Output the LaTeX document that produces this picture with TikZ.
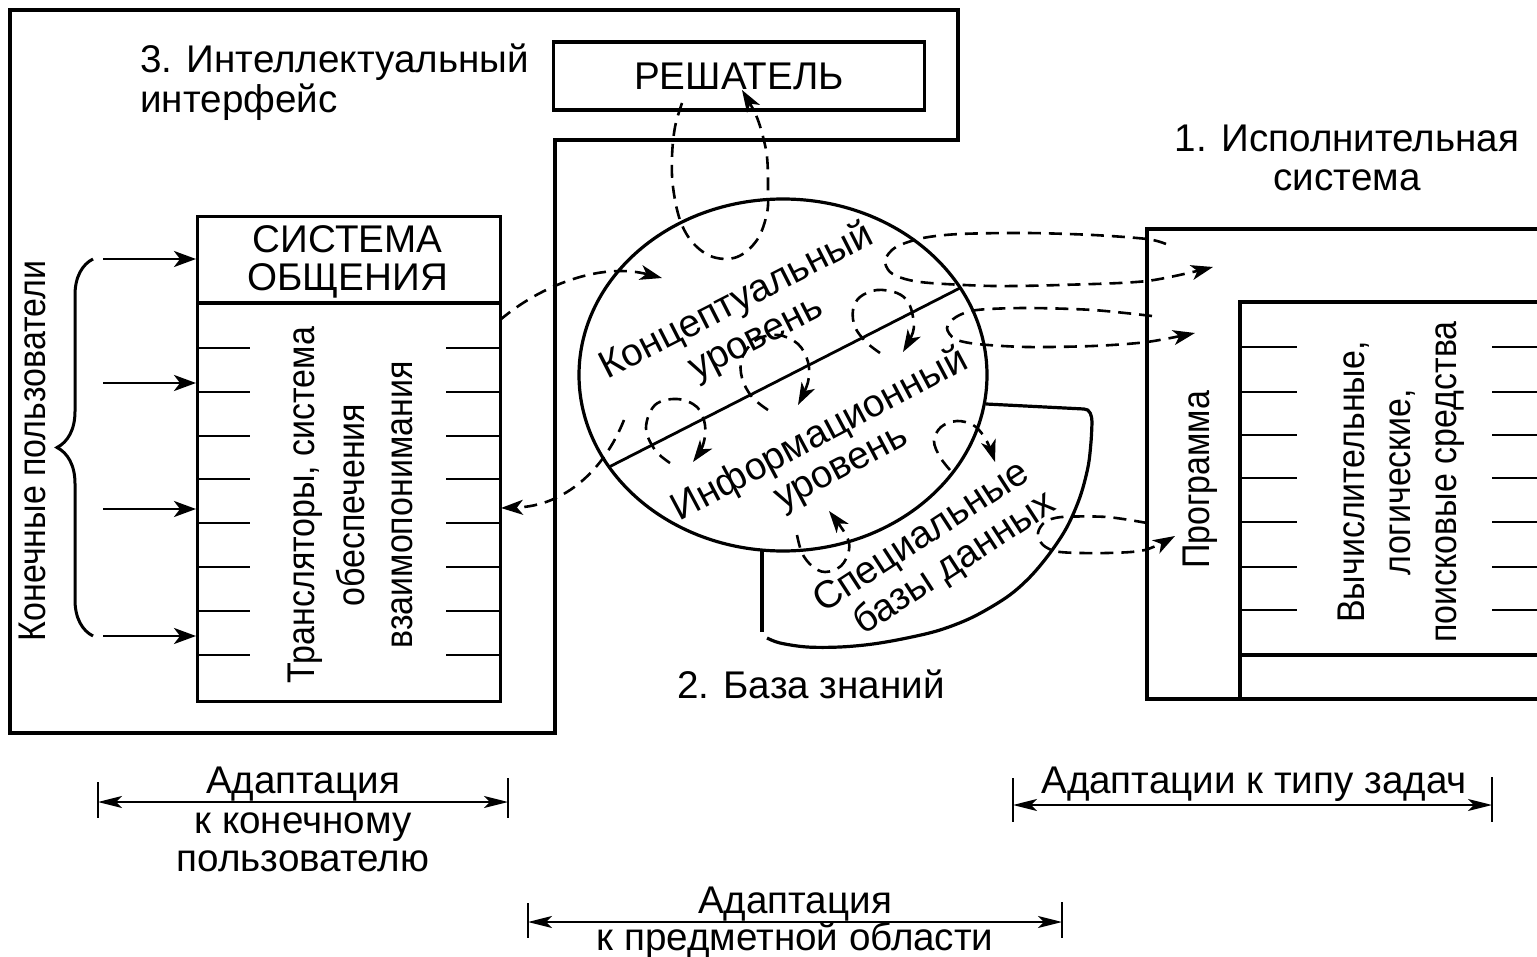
\documentclass[tikz,border=0pt]{standalone}
\usepackage{fontspec}
\setmainfont{Liberation Sans}
\newfontfamily\narrowfont[FakeStretch=0.88]{Liberation Sans}
\usetikzlibrary{arrows.meta,decorations.pathreplacing}
\begin{document}
\begin{tikzpicture}[x=0.5pt,y=-0.5pt,
  frame/.style={line width=1.6pt, line join=miter},
  tick/.style={line width=1.4pt},
  flowline/.style={line width=1.3pt, dash pattern=on 6.5pt off 4pt},
  flow/.style={flowline, -{Stealth[length=11pt,width=7.5pt,inset=3pt]}},
  userarrow/.style={line width=1.4pt, -{Stealth[length=11pt,width=8pt,inset=3pt]}},
  span/.style={line width=1.1pt, {Stealth[length=12pt,width=6pt,inset=3pt]}-{Stealth[length=12pt,width=6pt,inset=3pt]}},
  bar/.style={line width=1.1pt},
  lbl/.style={inner sep=0pt, font=\fontsize{19.3pt}{24pt}\selectfont},
  vlbl/.style={inner sep=0pt, rotate=90, anchor=base, font=\narrowfont\fontsize{19.3pt}{24pt}\selectfont},
]
\useasboundingbox (0,0) rectangle (1537,957);

% --- 3. intelligent interface: outer frame
\draw[frame] (10,10) -- (958,10) -- (958,140) -- (555,140) -- (555,733) -- (10,733) -- cycle;
\node[lbl, anchor=base west] (iface1) at (140,73) {3. Интеллектуальный};
\node[lbl, anchor=base west] (iface2) at (140,113) {интерфейс};

% solver
\node[draw, frame, lbl, minimum width=185.5pt, minimum height=34pt] (solver) at (739,76) {РЕШАТЕЛЬ};

% communication system
\node[draw, frame, minimum width=151.5pt, minimum height=242.5pt, anchor=north west] (comm) at (196,215) {};
\draw[frame] (196,303) -- (499,303);
\node[lbl, anchor=base] (comm1) at (347.5,253) {СИСТЕМА};
\node[lbl, anchor=base] (comm2) at (347.5,291) {ОБЩЕНИЯ};
\foreach \y in {348,392,436,479,523,567,611,655} {
  \draw[tick] (196,\y) -- (250,\y);
  \draw[tick] (446,\y) -- (499,\y);
}
\node[vlbl] (tr1) at (314,505) {Трансляторы, система};
\node[vlbl] (tr2) at (364,505) {обеспечения};
\node[vlbl] (tr3) at (412,505) {взаимопонимания};

% end users
\node[vlbl] (users) at (45,451) {Конечные пользователи};
\draw[line width=1.5pt, decorate, decoration={brace, amplitude=18pt}] (93,636) -- (93,259);
\foreach \y [count=\i] in {259,383,509,636} {
  \coordinate (u\i) at (103,\y);
  \draw[userarrow] (u\i) -- (comm.west |- u\i);
}

% --- 2. knowledge base
\draw[frame] (783,375) ellipse [x radius=102pt, y radius=88pt];
\draw[tick] (609,467) -- (960,288);
% special databases sector
\draw[frame] (762,551) -- (762,632);
\draw[frame, line join=round] (986,404) -- (1084,409) to[out=3,in=90] (1092,422)
  plot[smooth, tension=0.55] coordinates {(1092,422) (1091,442) (1088,467) (1080,497) (1067,527)
  (1050,553) (1030,577) (1007,597) (973,617) (940,630) (907,638) (873,644) (840,647) (807,647) (780,643) (767,638)};

\node[lbl, rotate=27] (conc1) at (737,302) {Концептуальный};
\node[lbl, rotate=27] (conc2) at (758,342) {уровень};
\node[lbl, rotate=28] (info1) at (820,435) {Информационный};
\node[lbl, rotate=28] (info2) at (843,471) {уровень};
\node[lbl, rotate=33] (sdb1) at (922,538) {Специальные};
\node[lbl, rotate=33] (sdb2) at (955,564) {базы данных};
\node[lbl, anchor=base] (kb) at (811,698) {2. База знаний};

% --- 1. executive system
\draw[frame] (1545,229) -- (1147,229) -- (1147,699) -- (1545,699);
\draw[frame] (1545,302) -- (1240,302) -- (1240,699);
\draw[frame] (1240,655) -- (1545,655);
\foreach \y in {347,392,435,478,522,567,610} {
  \draw[tick] (1240,\y) -- (1297,\y);
  \draw[tick] (1492,\y) -- (1545,\y);
}
\node[lbl, anchor=base] (exec1) at (1347,152) {1. Исполнительная};
\node[lbl, anchor=base] (exec2) at (1347,191) {система};
\node[vlbl] (prog) at (1209,480) {Программа};
\node[vlbl] (calc1) at (1364,482) {Вычислительные,};
\node[vlbl] (calc2) at (1410,482) {логические,};
\node[vlbl] (calc3) at (1456,482) {поисковые средства};

% --- information flows (dashed)
% solver <-> conceptual level
\draw[flow] plot[smooth, tension=0.6] coordinates {(682,103) (675,127) (672,157) (673,187) (680,220)
  (693,243) (713,257) (737,257) (757,240) (767,213) (768,187) (767,157) (762,133) (755,113) (742,90)};
% communication system -> conceptual level
\draw[flow] (500,320) .. controls (540,286) and (600,262) .. (662,278);
% knowledge base -> communication system
\draw[flow] (624,420) .. controls (604,470) and (565,506) .. (501,508);
% loops across the conceptual / information boundary
\draw[flow] plot[smooth, tension=0.6] coordinates {(670,463) (655,450) (646,428) (655,405) (677,399)
  (697,407) (705,425) (703,445) (693,462)};
\draw[flow] plot[smooth, tension=0.6] coordinates {(768,410) (752,397) (742,378) (742,358) (756,340)
  (778,335) (798,344) (808,362) (808,382) (798,405)};
\draw[flow] plot[smooth, tension=0.6] coordinates {(880,353) (866,342) (855,327) (853,310) (860,297)
  (877,290) (897,293) (908,302) (913,317) (913,332) (903,352)};
% information level <-> special databases
\draw[flow] plot[smooth, tension=0.6] coordinates {(950,470) (940,457) (934,441) (941,427) (957,421)
  (973,425) (983,435) (990,448) (995,462)};
\draw[flow] plot[smooth, tension=0.6] coordinates {(797,535) (802,553) (812,566) (825,572) (841,566)
  (849,550) (846,535) (829,511)};
% knowledge base <-> program
\draw[flow] plot[smooth, tension=0.5] coordinates {(1166,244) (1147,239) (1093,235) (1027,233) (960,234)
  (923,238) (896,247) (885,260) (890,272) (905,279) (930,283) (993,286) (1060,285) (1147,281) (1213,267)};
\draw[flow] plot[smooth, tension=0.5] coordinates {(1152,316) (1093,310) (1027,308) (977,310) (956,317)
  (947,328) (955,339) (977,344) (1027,347) (1093,346) (1147,342) (1195,333)};
\draw[flow] plot[smooth, tension=0.5] coordinates {(1147,523) (1107,517) (1062,517) (1045,522) (1038,533)
  (1043,545) (1060,552) (1107,553) (1145,550) (1175,536)};

% --- adaptation spans
\coordinate (a1l) at (98,802);  \coordinate (a1r) at (508,802);
\draw[bar] (98,782) -- (98,818);  \draw[bar] (508,778) -- (508,818);
\draw[span] (a1l) -- (a1r);
\node[lbl, anchor=base] at (303,793) {Адаптация};
\node[lbl, anchor=base] at (303,833) {к конечному};
\node[lbl, anchor=base] at (303,871) {пользователю};

\coordinate (a2l) at (1013,805); \coordinate (a2r) at (1492,805);
\draw[bar] (1013,778) -- (1013,822); \draw[bar] (1492,777) -- (1492,822);
\draw[span] (a2l) -- (a2r);
\node[lbl, anchor=base] at (1254,793) {Адаптации к типу задач};

\coordinate (a3l) at (528,922); \coordinate (a3r) at (1062,922);
\draw[bar] (528,903) -- (528,938); \draw[bar] (1062,902) -- (1062,938);
\draw[span] (a3l) -- (a3r);
\node[lbl, anchor=base] at (795,913) {Адаптация};
\node[lbl, anchor=base] at (795,950) {к предметной области};
\end{tikzpicture}
\end{document}
